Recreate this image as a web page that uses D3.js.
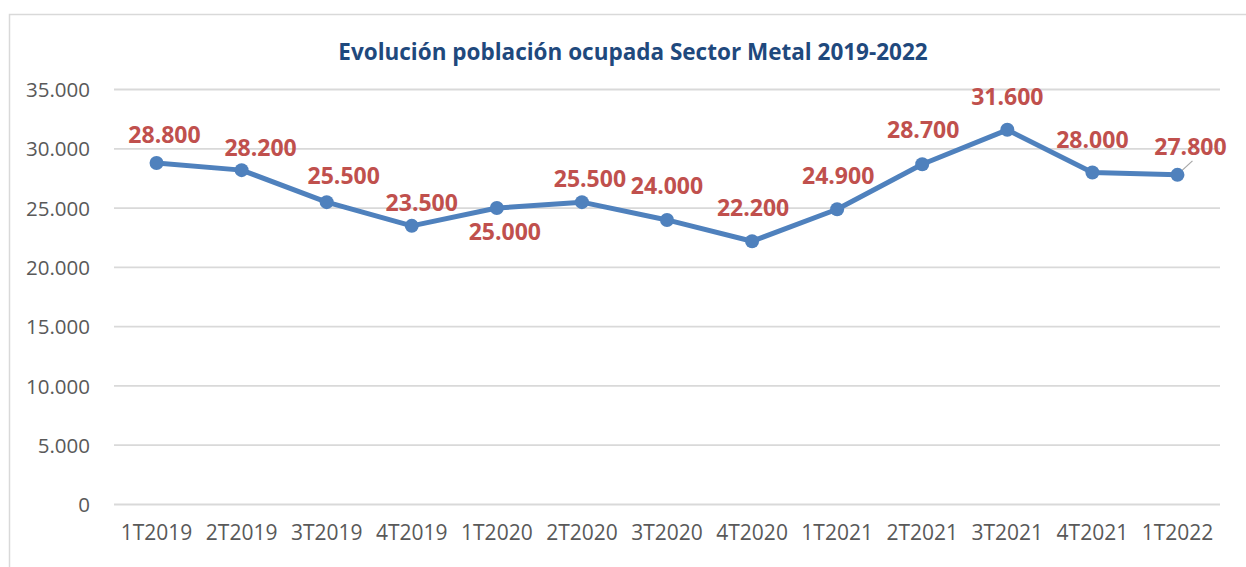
<!DOCTYPE html>
<html>
<head>
<meta charset="utf-8">
<script src="https://cdn.jsdelivr.net/npm/d3@7/dist/d3.min.js"></script>
<style>
  body { margin: 0; background: #fff; }
  svg { display: block; font-family: "Open Sans", sans-serif; }
</style>
</head>
<body>
<svg id="chart" width="1246" height="567"></svg>
<script>
const CATEGORIES = ['1T2019', '2T2019', '3T2019', '4T2019', '1T2020', '2T2020', '3T2020',
  '4T2020', '1T2021', '2T2021', '3T2021', '4T2021', '1T2022'];
const VALUES = [28800, 28200, 25500, 23500, 25000, 25500, 24000, 22200, 24900, 28700, 31600, 28000, 27800];
const Y_TICKS = [0, 5000, 10000, 15000, 20000, 25000, 30000, 35000];

// label offsets (layout only), relative to each point
const LABEL_DX = [8, 19, 17, 10, 8, 8, 0, 1, 1, 1, 0, 0, 13];
const LABEL_DY = [-28, -22, -26, -23, 24, -23, -34, -33, -33, -34, -33, -33, -28];

(function () {
  "use strict";

  let svg = d3.select('#chart'),
    left = 114,
    right = 1220,
    top = 89.5,
    bottom = 504.5;

  // border
  svg.append('rect')
    .attr('x', 9.5).attr('y', 14.5)
    .attr('width', 1300).attr('height', 600)
    .attr('fill', 'none')
    .attr('stroke', '#d9d9d9')
    .attr('stroke-width', 1.5);

  let x = d3.scaleBand().domain(CATEGORIES).range([left, right]);
  let y = d3.scaleLinear().domain([0, 35000]).range([bottom, top]);
  let fmt = d3.formatLocale({ decimal: ',', thousands: '.', grouping: [3], currency: ['', '€'] }).format(',d');

  // title
  svg.append('text')
    .attr('x', 633).attr('y', 59.5)
    .attr('text-anchor', 'middle')
    .attr('font-size', 22.5)
    .attr('font-weight', 'bold')
    .attr('fill', '#1f497d')
    .text('Evolución población ocupada Sector Metal 2019-2022');

  // gridlines
  svg.append('g').selectAll('line')
    .data(Y_TICKS)
    .enter()
    .append('line')
    .attr('x1', left).attr('x2', right)
    .attr('y1', d => y(d)).attr('y2', d => y(d))
    .attr('stroke', '#d9d9d9')
    .attr('stroke-width', 1.8);

  // y axis labels
  let yAxis = svg.append('g')
    .attr('transform', 'translate(' + (left - 24) + ',0)')
    .call(d3.axisLeft(y).tickValues(Y_TICKS).tickFormat(fmt).tickSize(0).tickPadding(0));
  yAxis.select('.domain').remove();
  yAxis.selectAll('text')
    .attr('font-family', '"Open Sans", sans-serif')
    .attr('font-size', 20.5)
    .attr('fill', '#595959')
    .attr('dy', '0.35em');

  // x axis labels
  let xAxis = svg.append('g')
    .attr('transform', 'translate(0,' + (bottom + 21) + ')')
    .call(d3.axisBottom(x).tickSize(0).tickPadding(0));
  xAxis.select('.domain').remove();
  xAxis.selectAll('text')
    .attr('font-family', '"Open Sans", sans-serif')
    .attr('font-size', 21)
    .attr('fill', '#595959')
    .attr('dy', '0.71em');

  let cx = (d, i) => x(CATEGORIES[i]) + x.bandwidth() / 2;

  // line
  let line = d3.line()
    .x((d, i) => cx(d, i))
    .y(d => y(d));

  svg.append('path')
    .datum(VALUES)
    .attr('d', line)
    .attr('fill', 'none')
    .attr('stroke', '#4f81bd')
    .attr('stroke-width', 5)
    .attr('stroke-linejoin', 'round');

  // leader line for last label
  let last = VALUES.length - 1;
  svg.append('line')
    .attr('x1', cx(VALUES[last], last) + 3)
    .attr('y1', y(VALUES[last]) - 3)
    .attr('x2', cx(VALUES[last], last) + 15)
    .attr('y2', y(VALUES[last]) - 14)
    .attr('stroke', '#a6a6a6')
    .attr('stroke-width', 1.2);

  // markers
  svg.append('g').selectAll('circle')
    .data(VALUES)
    .enter()
    .append('circle')
    .attr('cx', (d, i) => cx(d, i))
    .attr('cy', d => y(d))
    .attr('r', 7)
    .attr('fill', '#4f81bd');

  // data labels
  svg.append('g').selectAll('text')
    .data(VALUES)
    .enter()
    .append('text')
    .attr('x', (d, i) => cx(d, i) + LABEL_DX[i])
    .attr('y', (d, i) => y(d) + LABEL_DY[i])
    .attr('dy', '0.35em')
    .attr('text-anchor', 'middle')
    .attr('font-size', 23)
    .attr('font-weight', 'bold')
    .attr('fill', '#c0504d')
    .text(d => fmt(d));
}());
</script>
</body>
</html>
